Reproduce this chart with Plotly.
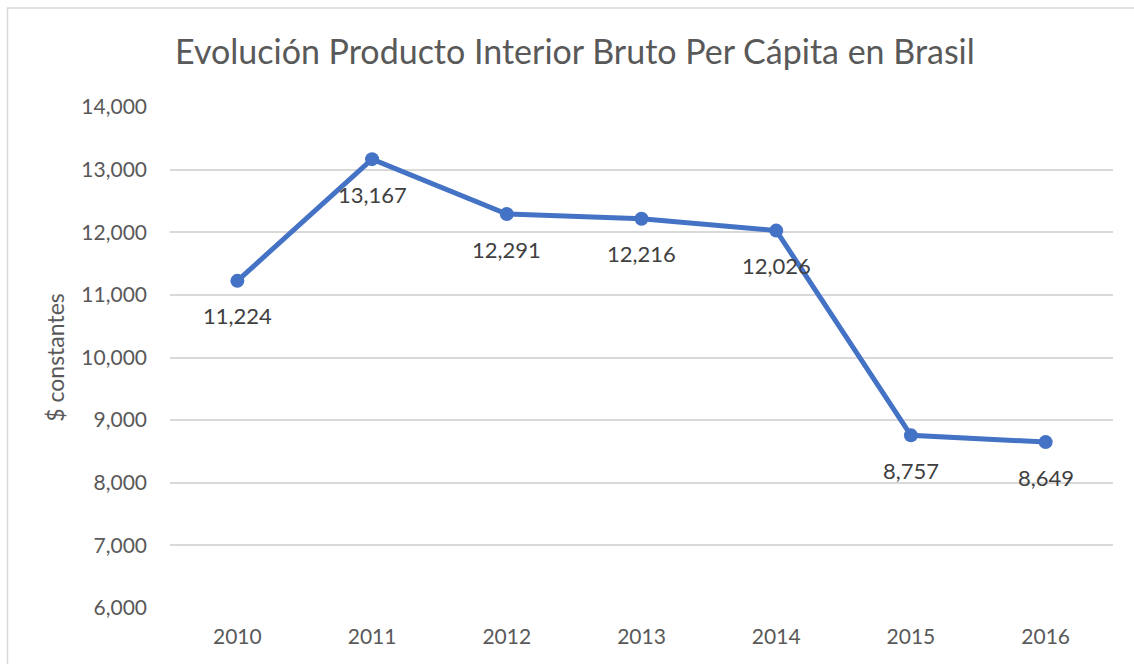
import plotly.graph_objects as go

years = ["2010", "2011", "2012", "2013", "2014", "2015", "2016"]
gdp_pc = [11224, 13167, 12291, 12216, 12026, 8757, 8649]
label_text = ["11,224", "13,167", "12,291", "12,216", "12,026", "8,757", "8,649"]
y_ticks = [6000, 7000, 8000, 9000, 10000, 11000, 12000, 13000, 14000]
y_tick_text = ["6,000", "7,000", "8,000", "9,000", "10,000", "11,000", "12,000", "13,000", "14,000"]

FONT = "Lato"
BLUE = "#4472C4"

fig = go.Figure()
fig.add_trace(go.Scatter(
    x=years, y=gdp_pc, mode="lines+markers",
    line=dict(color=BLUE, width=5),
    marker=dict(color=BLUE, size=14),
    hoverinfo="x+y", showlegend=False,
))

for i, (yv, t) in enumerate(zip(gdp_pc, label_text)):
    fig.add_annotation(x=i, y=yv, xref="x", yref="y", text=t, showarrow=False,
                       yshift=-35,
                       font=dict(family=FONT, size=22, color="#404040"))

# chart border (light gray frame)
fig.add_shape(type="path", xref="paper", yref="paper",
              path="M -0.1723,-0.2 L -0.1723,1.1976 L 1.1,1.1976",
              line=dict(color="#d9d9d9", width=1.5), layer="below")

fig.update_layout(
    width=1134, height=664,
    margin=dict(l=170, r=21, t=107, b=56, autoexpand=False),
    paper_bgcolor="white", plot_bgcolor="white",
    font=dict(family=FONT, color="#595959"),
    title=dict(text="Evolución Producto Interior Bruto Per Cápita en Brasil",
               font=dict(family=FONT, size=34, color="#595959"),
               x=0.507, xref="container", xanchor="center",
               y=1 - 52 / 664, yref="container", yanchor="middle"),
    xaxis=dict(type="category", range=[-0.5, 6.5], showgrid=False, zeroline=False,
               showline=False, ticks="", tickfont=dict(family=FONT, size=21, color="#595959"),
               ticklabelstandoff=14),
    yaxis=dict(range=[6000, 14000], tickvals=y_ticks, ticktext=y_tick_text,
               showgrid=True, gridcolor="#d9d9d9", gridwidth=1.5, zeroline=False,
               showline=False, ticks="", tickfont=dict(family=FONT, size=21, color="#595959"),
               ticklabelstandoff=22,
               title=dict(text="$ constantes", standoff=10,
                          font=dict(family=FONT, size=23, color="#595959"))),
)

fig.write_html("out.html", config={"displayModeBar": False},
               post_script="document.body.style.margin='0';")
